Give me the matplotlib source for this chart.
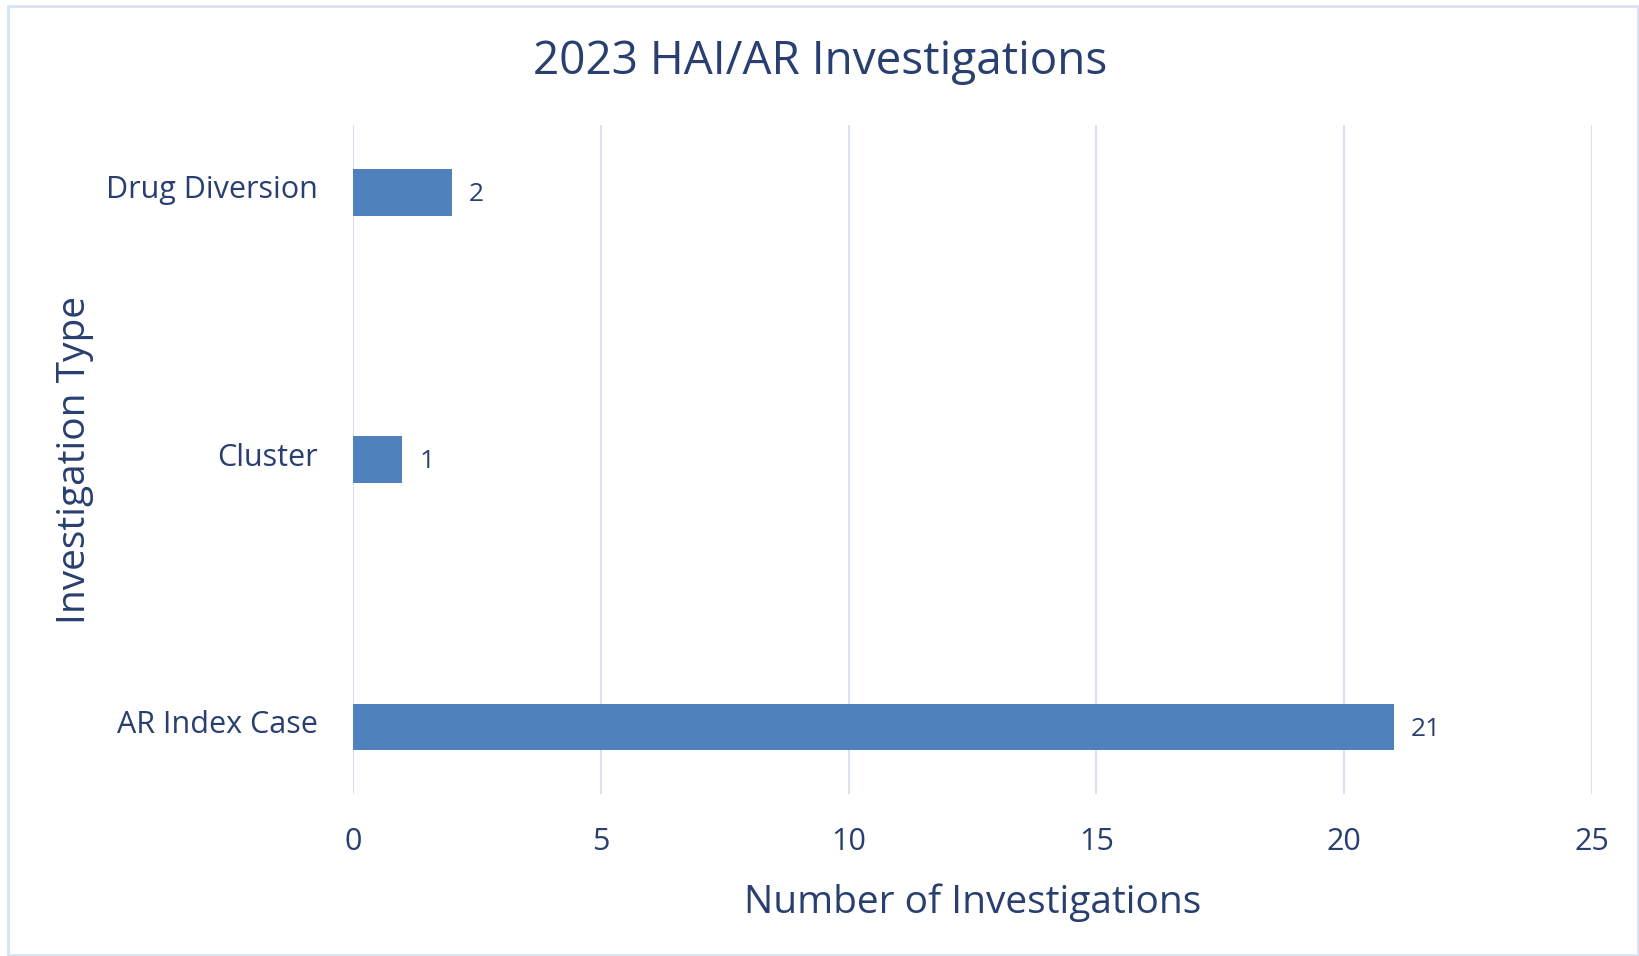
import matplotlib

matplotlib.use("Agg")
import matplotlib.pyplot as plt
import matplotlib.transforms as mtransforms
from matplotlib.patches import Rectangle

# data
categories = ["AR Index Case", "Cluster", "Drug Diversion"]
counts = [21, 1, 2]
x_ticks = [0, 5, 10, 15, 20, 25]

TEXT = "#283f70"
BAR = "#4f81bd"
GRID = "#d9e1f2"

plt.rcParams["font.family"] = ["Open Sans", "DejaVu Sans"]

fig = plt.figure(figsize=(16.4, 9.56), dpi=100)
ax = fig.add_axes([0.2152, 0.1695, 0.7555, 0.6995])

y = list(range(len(categories)))
bars = ax.barh(y, counts, height=0.175, color=BAR, zorder=3)
for b, v in zip(bars, counts):
    ax.annotate(str(v), (b.get_width(), b.get_y() + b.get_height() / 2),
                xytext=(12, -1.5), textcoords="offset points",
                ha="left", va="center", fontsize=19, color=TEXT)

ax.set_xlim(0, 25)
ax.set_ylim(-0.25, 2.25)
ax.set_xticks(x_ticks)
ax.set_yticks(y)
ax.set_yticklabels(categories)
ax.tick_params(axis="x", length=0, pad=23.5, labelsize=22, labelcolor=TEXT)
ax.tick_params(axis="y", length=0, pad=25, labelsize=22, labelcolor=TEXT)
# category labels sit a little above the bar centres
shift = mtransforms.ScaledTranslation(0, 4 / 72, fig.dpi_scale_trans)
for lab in ax.get_yticklabels():
    lab.set_transform(lab.get_transform() + shift)
ax.grid(axis="x", color=GRID, linewidth=1.5, zorder=0)
for s in ax.spines.values():
    s.set_visible(False)

ax.set_xlabel("Number of Investigations", fontsize=28, color=TEXT, labelpad=19)
ax.set_ylabel("Investigation Type", fontsize=28, color=TEXT, labelpad=9)
fig.text(0.5, 0.935, "2023 HAI/AR Investigations", ha="center", va="center",
         fontsize=33, color=TEXT)

fig.patches.append(Rectangle((8 / 1640, 1 / 956), 1630 / 1640, 949 / 956,
                             transform=fig.transFigure, fill=False,
                             edgecolor=GRID, linewidth=2))

fig.savefig("out.png", dpi=100)
plt.close(fig)
